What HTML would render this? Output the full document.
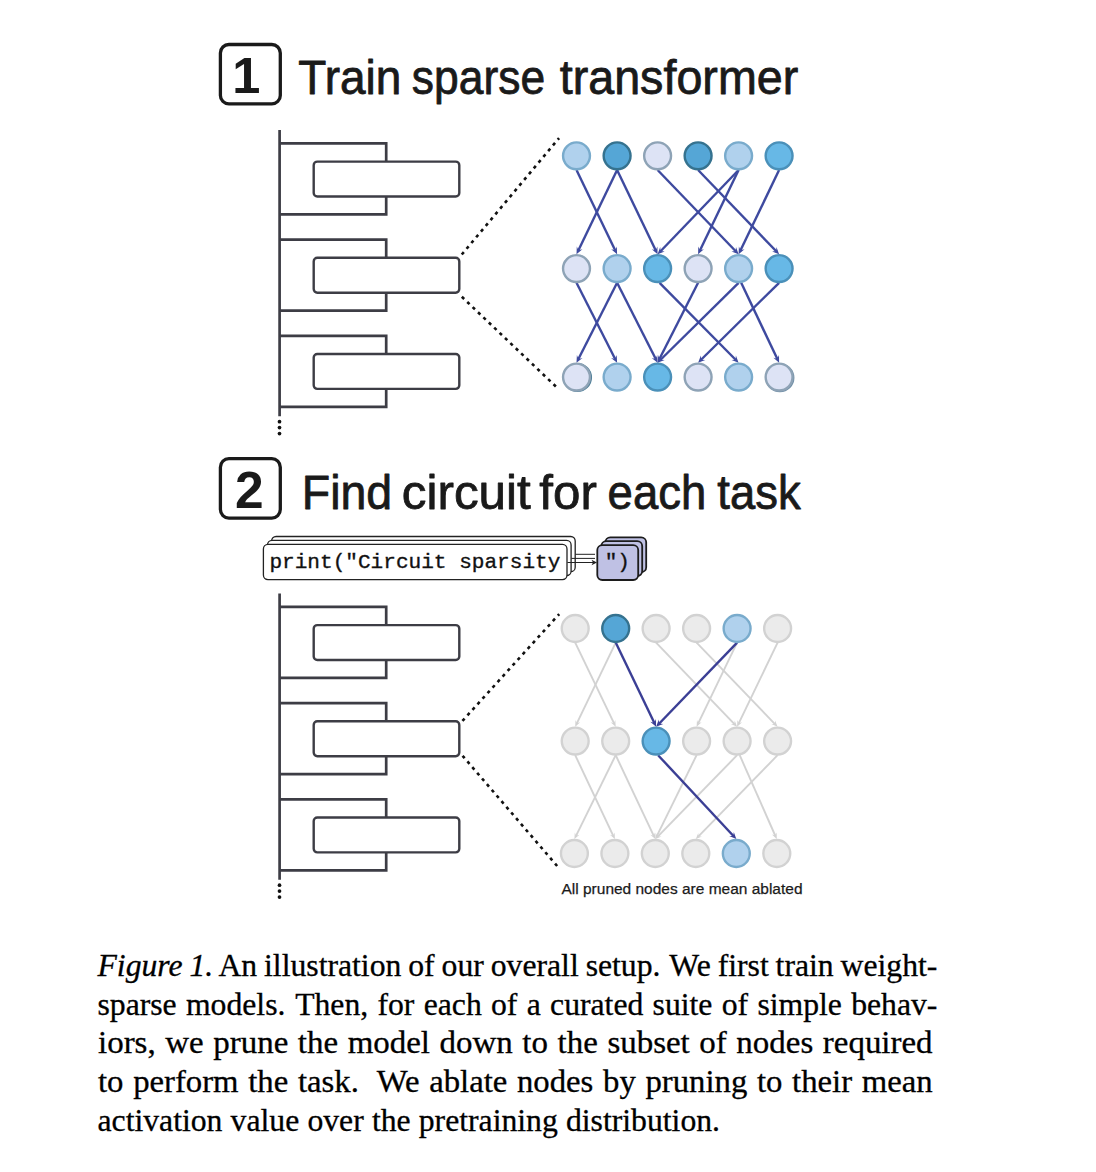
<!DOCTYPE html>
<html lang="en"><head><meta charset="utf-8"><title>Figure 1</title>
<style>
html,body{margin:0;padding:0;background:#fff;}
body{width:1096px;height:1172px;position:relative;overflow:hidden;}
svg{position:absolute;left:0;top:0;}
.cap{position:absolute;left:97.5px;width:845px;font-family:"Liberation Serif","Times New Roman",serif;font-size:31.7px;line-height:38px;color:#000;white-space:pre;height:38px;-webkit-text-stroke:0.3px #000;}
</style></head><body>
<svg width="1096" height="1172" viewBox="0 0 1096 1172">
<rect width="1096" height="1172" fill="#fff"/>
<rect x="220.4" y="44.5" width="59.9" height="59.4" rx="8.5" fill="#fff" stroke="#1a1a1a" stroke-width="3.3"/>
<text x="246.4" y="92.9" text-anchor="middle" font-family="'Liberation Sans',Arial,sans-serif" font-weight="700" font-size="50.5" fill="#1a1a1a">1</text>
<text x="298.3" y="94.3" textLength="103.0" lengthAdjust="spacingAndGlyphs" font-family="'Liberation Sans',Arial,sans-serif" font-size="47.5" fill="#1a1a1a" stroke="#1a1a1a" stroke-width="0.8" stroke-linejoin="round">Train</text>
<text x="411.8" y="94.3" textLength="133.3" lengthAdjust="spacingAndGlyphs" font-family="'Liberation Sans',Arial,sans-serif" font-size="47.5" fill="#1a1a1a" stroke="#1a1a1a" stroke-width="0.8" stroke-linejoin="round">sparse</text>
<text x="559.7" y="94.3" textLength="238.6" lengthAdjust="spacingAndGlyphs" font-family="'Liberation Sans',Arial,sans-serif" font-size="47.5" fill="#1a1a1a" stroke="#1a1a1a" stroke-width="0.8" stroke-linejoin="round">transformer</text>
<line x1="279.6" y1="130.1" x2="279.6" y2="416.3" stroke="#3d3d45" stroke-width="2.7"/>
<path d="M279.6,143.4 H386.2 V214.4 H279.6" fill="none" stroke="#3d3d45" stroke-width="2.7" stroke-linejoin="miter"/>
<rect x="313.7" y="161.6" width="145.6" height="34.9" rx="3.6" fill="#fff" stroke="#3d3d45" stroke-width="2.4"/>
<path d="M279.6,239.60000000000002 H386.2 V310.6 H279.6" fill="none" stroke="#3d3d45" stroke-width="2.7" stroke-linejoin="miter"/>
<rect x="313.7" y="257.8" width="145.6" height="34.9" rx="3.6" fill="#fff" stroke="#3d3d45" stroke-width="2.4"/>
<path d="M279.6,335.8 H386.2 V406.8 H279.6" fill="none" stroke="#3d3d45" stroke-width="2.7" stroke-linejoin="miter"/>
<rect x="313.7" y="354.0" width="145.6" height="34.9" rx="3.6" fill="#fff" stroke="#3d3d45" stroke-width="2.4"/>
<circle cx="279.50" cy="421.65" r="1.85" fill="#111"/>
<circle cx="279.50" cy="427.62" r="1.85" fill="#111"/>
<circle cx="279.50" cy="433.59" r="1.85" fill="#111"/>
<line x1="461.77" y1="254.53" x2="559.06" y2="138.05" stroke="#111" stroke-width="2.6" stroke-dasharray="3.2 4.288"/>
<line x1="461.84" y1="296.80" x2="555.86" y2="386.50" stroke="#111" stroke-width="2.6" stroke-dasharray="3.2 4.256"/>
<circle cx="577.5" cy="377.5" r="13.45" fill="#dde3f5" stroke="#4f7f98" stroke-width="2.2"/>
<circle cx="779.9" cy="377.7" r="13.45" fill="#dde3f5" stroke="#6f8ea6" stroke-width="2.2"/>
<line x1="576.5" y1="170.0" x2="615.4" y2="250.8" stroke="#3e4a9f" stroke-width="2.4"/><polygon points="617.1,254.3 611.2,249.3 615.2,250.3 616.8,246.6" fill="#3e4a9f"/>
<line x1="617.1" y1="170.0" x2="578.2" y2="250.8" stroke="#3e4a9f" stroke-width="2.4"/><polygon points="576.5,254.3 576.8,246.6 578.4,250.3 582.4,249.3" fill="#3e4a9f"/>
<line x1="617.1" y1="170.0" x2="655.9" y2="250.8" stroke="#3e4a9f" stroke-width="2.4"/><polygon points="657.6,254.3 651.8,249.3 655.7,250.3 657.4,246.6" fill="#3e4a9f"/>
<line x1="657.6" y1="170.0" x2="736.0" y2="251.5" stroke="#3e4a9f" stroke-width="2.4"/><polygon points="738.6,254.3 731.5,251.4 735.6,251.1 736.0,247.1" fill="#3e4a9f"/>
<line x1="698.1" y1="170.0" x2="776.5" y2="251.5" stroke="#3e4a9f" stroke-width="2.4"/><polygon points="779.1,254.3 772.1,251.4 776.1,251.1 776.5,247.1" fill="#3e4a9f"/>
<line x1="738.6" y1="170.0" x2="660.3" y2="251.5" stroke="#3e4a9f" stroke-width="2.4"/><polygon points="657.6,254.3 660.2,247.1 660.6,251.1 664.7,251.4" fill="#3e4a9f"/>
<line x1="738.6" y1="170.0" x2="699.8" y2="250.8" stroke="#3e4a9f" stroke-width="2.4"/><polygon points="698.1,254.3 698.3,246.6 700.0,250.3 703.9,249.3" fill="#3e4a9f"/>
<line x1="779.1" y1="170.0" x2="740.3" y2="250.8" stroke="#3e4a9f" stroke-width="2.4"/><polygon points="738.6,254.3 738.9,246.6 740.5,250.3 744.5,249.3" fill="#3e4a9f"/>
<line x1="576.5" y1="282.8" x2="615.3" y2="359.3" stroke="#3e4a9f" stroke-width="2.4"/><polygon points="617.1,362.8 611.1,357.9 615.1,358.9 616.7,355.1" fill="#3e4a9f"/>
<line x1="617.1" y1="282.8" x2="578.3" y2="359.3" stroke="#3e4a9f" stroke-width="2.4"/><polygon points="576.5,362.8 576.9,355.1 578.5,358.9 582.5,357.9" fill="#3e4a9f"/>
<line x1="617.1" y1="282.8" x2="655.9" y2="359.3" stroke="#3e4a9f" stroke-width="2.4"/><polygon points="657.6,362.8 651.7,357.9 655.6,358.9 657.2,355.1" fill="#3e4a9f"/>
<line x1="659.6" y1="282.8" x2="735.9" y2="360.0" stroke="#3e4a9f" stroke-width="2.4"/><polygon points="738.6,362.8 731.5,359.9 735.6,359.7 735.9,355.6" fill="#3e4a9f"/>
<line x1="698.1" y1="282.8" x2="659.3" y2="359.3" stroke="#3e4a9f" stroke-width="2.4"/><polygon points="657.6,362.8 658.0,355.1 659.6,358.9 663.5,357.9" fill="#3e4a9f"/>
<line x1="738.6" y1="282.8" x2="660.3" y2="360.0" stroke="#3e4a9f" stroke-width="2.4"/><polygon points="657.6,362.8 660.4,355.6 660.7,359.7 664.7,360.0" fill="#3e4a9f"/>
<line x1="741.2" y1="282.8" x2="777.5" y2="359.3" stroke="#3e4a9f" stroke-width="2.4"/><polygon points="779.1,362.8 773.4,357.8 777.3,358.8 779.0,355.1" fill="#3e4a9f"/>
<line x1="779.1" y1="282.8" x2="700.8" y2="360.0" stroke="#3e4a9f" stroke-width="2.4"/><polygon points="698.1,362.8 700.9,355.6 701.2,359.7 705.3,360.0" fill="#3e4a9f"/>
<circle cx="576.5" cy="155.8" r="13.45" fill="#b0d1ed" stroke="#79abcc" stroke-width="2.4"/>
<circle cx="617.1" cy="155.8" r="13.45" fill="#55a6d6" stroke="#35728f" stroke-width="2.4"/>
<circle cx="657.6" cy="155.8" r="13.45" fill="#dde3f5" stroke="#8ea3b6" stroke-width="2.4"/>
<circle cx="698.1" cy="155.8" r="13.45" fill="#55a6d6" stroke="#35728f" stroke-width="2.4"/>
<circle cx="738.6" cy="155.8" r="13.45" fill="#b0d1ed" stroke="#79abcc" stroke-width="2.4"/>
<circle cx="779.1" cy="155.8" r="13.45" fill="#67b8e6" stroke="#4a90b9" stroke-width="2.4"/>
<circle cx="576.5" cy="268.6" r="13.45" fill="#dde3f5" stroke="#8ea3b6" stroke-width="2.4"/>
<circle cx="617.1" cy="268.6" r="13.45" fill="#b0d1ed" stroke="#79abcc" stroke-width="2.4"/>
<circle cx="657.6" cy="268.6" r="13.45" fill="#67b8e6" stroke="#4a90b9" stroke-width="2.4"/>
<circle cx="698.1" cy="268.6" r="13.45" fill="#dde3f5" stroke="#8ea3b6" stroke-width="2.4"/>
<circle cx="738.6" cy="268.6" r="13.45" fill="#b0d1ed" stroke="#79abcc" stroke-width="2.4"/>
<circle cx="779.1" cy="268.6" r="13.45" fill="#67b8e6" stroke="#4a90b9" stroke-width="2.4"/>
<circle cx="576.5" cy="377.1" r="13.45" fill="#dde3f5" stroke="#8ea3b6" stroke-width="2.4"/>
<circle cx="617.1" cy="377.1" r="13.45" fill="#b0d1ed" stroke="#79abcc" stroke-width="2.4"/>
<circle cx="657.6" cy="377.1" r="13.45" fill="#67b8e6" stroke="#4a90b9" stroke-width="2.4"/>
<circle cx="698.1" cy="377.1" r="13.45" fill="#dde3f5" stroke="#8ea3b6" stroke-width="2.4"/>
<circle cx="738.6" cy="377.1" r="13.45" fill="#b0d1ed" stroke="#79abcc" stroke-width="2.4"/>
<circle cx="779.1" cy="377.1" r="13.45" fill="#dde3f5" stroke="#8ea3b6" stroke-width="2.4"/>
<rect x="220.4" y="458.7" width="59.9" height="59.4" rx="8.5" fill="#fff" stroke="#1a1a1a" stroke-width="3.3"/>
<text x="249.4" y="507.6" text-anchor="middle" font-family="'Liberation Sans',Arial,sans-serif" font-weight="700" font-size="51.5" fill="#1a1a1a">2</text>
<text x="301.8" y="508.6" textLength="90.4" lengthAdjust="spacingAndGlyphs" font-family="'Liberation Sans',Arial,sans-serif" font-size="47.5" fill="#1a1a1a" stroke="#1a1a1a" stroke-width="0.8" stroke-linejoin="round">Find</text>
<text x="401.8" y="508.6" textLength="129.0" lengthAdjust="spacingAndGlyphs" font-family="'Liberation Sans',Arial,sans-serif" font-size="47.5" fill="#1a1a1a" stroke="#1a1a1a" stroke-width="0.8" stroke-linejoin="round">circuit</text>
<text x="539.3" y="508.6" textLength="57.5" lengthAdjust="spacingAndGlyphs" font-family="'Liberation Sans',Arial,sans-serif" font-size="47.5" fill="#1a1a1a" stroke="#1a1a1a" stroke-width="0.8" stroke-linejoin="round">for</text>
<text x="607.6" y="508.6" textLength="98.6" lengthAdjust="spacingAndGlyphs" font-family="'Liberation Sans',Arial,sans-serif" font-size="47.5" fill="#1a1a1a" stroke="#1a1a1a" stroke-width="0.8" stroke-linejoin="round">each</text>
<text x="717.3" y="508.6" textLength="83.3" lengthAdjust="spacingAndGlyphs" font-family="'Liberation Sans',Arial,sans-serif" font-size="47.5" fill="#1a1a1a" stroke="#1a1a1a" stroke-width="0.8" stroke-linejoin="round">task</text>
<rect x="271.6" y="536.5" width="303.6" height="35.2" rx="4.5" fill="#fff" stroke="#222" stroke-width="1.3"/>
<rect x="267.5" y="540.4" width="303.6" height="35.2" rx="4.5" fill="#fff" stroke="#222" stroke-width="1.3"/>
<rect x="263.4" y="544.4" width="303.6" height="35.2" rx="4.5" fill="#fff" stroke="#222" stroke-width="1.3"/>
<text x="269.4" y="568.2" textLength="291" lengthAdjust="spacingAndGlyphs" font-family="'Liberation Mono',monospace" font-size="21" fill="#111" stroke="#111" stroke-width="0.35">print("Circuit sparsity</text>
<line x1="575.4" y1="554.3" x2="595" y2="554.3" stroke="#222" stroke-width="1"/>
<line x1="571.4" y1="558.4" x2="595" y2="558.4" stroke="#222" stroke-width="1"/>
<line x1="567.4" y1="562.5" x2="595" y2="562.5" stroke="#222" stroke-width="1"/>
<polygon points="597,562.5 591.5,559.8 593,562.5 591.5,565.2" fill="#222"/>
<rect x="605.3" y="537.3" width="40.9" height="34.9" rx="5" fill="#bfc1e4" stroke="#1c1c1c" stroke-width="1.8"/>
<rect x="601.3" y="541.2" width="40.9" height="34.9" rx="5" fill="#bfc1e4" stroke="#1c1c1c" stroke-width="1.8"/>
<rect x="597.3" y="545.1" width="40.9" height="34.9" rx="5" fill="#bfc1e4" stroke="#1c1c1c" stroke-width="1.8"/>
<text x="617.3" y="568.4" text-anchor="middle" font-family="'Liberation Mono',monospace" font-size="21" fill="#111" stroke="#111" stroke-width="0.35">")</text>
<line x1="279.6" y1="593.6" x2="279.6" y2="879.8" stroke="#3d3d45" stroke-width="2.7"/>
<path d="M279.6,606.9 H386.2 V677.9 H279.6" fill="none" stroke="#3d3d45" stroke-width="2.7" stroke-linejoin="miter"/>
<rect x="313.7" y="625.1" width="145.6" height="34.9" rx="3.6" fill="#fff" stroke="#3d3d45" stroke-width="2.4"/>
<path d="M279.6,703.1 H386.2 V774.1 H279.6" fill="none" stroke="#3d3d45" stroke-width="2.7" stroke-linejoin="miter"/>
<rect x="313.7" y="721.3" width="145.6" height="34.9" rx="3.6" fill="#fff" stroke="#3d3d45" stroke-width="2.4"/>
<path d="M279.6,799.3 H386.2 V870.3 H279.6" fill="none" stroke="#3d3d45" stroke-width="2.7" stroke-linejoin="miter"/>
<rect x="313.7" y="817.5" width="145.6" height="34.9" rx="3.6" fill="#fff" stroke="#3d3d45" stroke-width="2.4"/>
<circle cx="279.50" cy="885.15" r="1.85" fill="#111"/>
<circle cx="279.50" cy="891.12" r="1.85" fill="#111"/>
<circle cx="279.50" cy="897.09" r="1.85" fill="#111"/>
<line x1="462.43" y1="720.89" x2="559.19" y2="614.06" stroke="#111" stroke-width="2.6" stroke-dasharray="3.2 4.281"/>
<line x1="462.56" y1="755.79" x2="557.14" y2="866.01" stroke="#111" stroke-width="2.6" stroke-dasharray="3.2 4.276"/>
<line x1="575.2" y1="642.6" x2="614.2" y2="723.7" stroke="#d2d2d2" stroke-width="1.9"/><polygon points="615.7,726.8 610.6,722.3 614.0,723.3 615.3,720.0" fill="#d2d2d2"/>
<line x1="615.7" y1="642.6" x2="576.7" y2="723.7" stroke="#d2d2d2" stroke-width="1.9"/><polygon points="575.2,726.8 575.5,720.0 576.9,723.3 580.2,722.3" fill="#d2d2d2"/>
<line x1="656.1" y1="642.6" x2="734.7" y2="724.3" stroke="#d2d2d2" stroke-width="1.9"/><polygon points="737.1,726.8 730.9,724.1 734.4,724.0 734.7,720.5" fill="#d2d2d2"/>
<line x1="696.6" y1="642.6" x2="775.2" y2="724.3" stroke="#d2d2d2" stroke-width="1.9"/><polygon points="777.6,726.8 771.4,724.1 774.9,724.0 775.1,720.5" fill="#d2d2d2"/>
<line x1="737.1" y1="642.6" x2="698.1" y2="723.7" stroke="#d2d2d2" stroke-width="1.9"/><polygon points="696.6,726.8 697.0,720.0 698.3,723.3 701.6,722.3" fill="#d2d2d2"/>
<line x1="777.6" y1="642.6" x2="738.6" y2="723.7" stroke="#d2d2d2" stroke-width="1.9"/><polygon points="737.1,726.8 737.4,720.0 738.7,723.3 742.1,722.3" fill="#d2d2d2"/>
<line x1="615.7" y1="642.6" x2="654.5" y2="723.3" stroke="#3b3f95" stroke-width="2.4"/><polygon points="656.1,726.8 650.3,721.8 654.3,722.8 655.9,719.1" fill="#3b3f95"/>
<line x1="737.1" y1="642.6" x2="658.8" y2="724.0" stroke="#3b3f95" stroke-width="2.4"/><polygon points="656.1,726.8 658.8,719.6 659.1,723.6 663.2,723.9" fill="#3b3f95"/>
<line x1="575.2" y1="755.2" x2="613.4" y2="836.1" stroke="#d2d2d2" stroke-width="1.9"/><polygon points="614.9,839.1 609.9,834.7 613.2,835.7 614.6,832.4" fill="#d2d2d2"/>
<line x1="615.7" y1="755.2" x2="575.9" y2="836.1" stroke="#d2d2d2" stroke-width="1.9"/><polygon points="574.4,839.1 574.8,832.4 576.1,835.7 579.5,834.7" fill="#d2d2d2"/>
<line x1="615.7" y1="755.2" x2="653.9" y2="836.1" stroke="#d2d2d2" stroke-width="1.9"/><polygon points="655.3,839.1 650.3,834.7 653.7,835.7 655.0,832.4" fill="#d2d2d2"/>
<line x1="696.6" y1="755.2" x2="656.8" y2="836.1" stroke="#d2d2d2" stroke-width="1.9"/><polygon points="655.3,839.1 655.7,832.4 657.0,835.7 660.4,834.7" fill="#d2d2d2"/>
<line x1="737.1" y1="755.2" x2="657.7" y2="836.7" stroke="#d2d2d2" stroke-width="1.9"/><polygon points="655.3,839.1 657.8,832.9 658.0,836.4 661.5,836.5" fill="#d2d2d2"/>
<line x1="739.7" y1="755.2" x2="775.4" y2="836.0" stroke="#d2d2d2" stroke-width="1.9"/><polygon points="776.8,839.1 771.9,834.5 775.2,835.6 776.6,832.4" fill="#d2d2d2"/>
<line x1="777.6" y1="755.2" x2="698.2" y2="836.7" stroke="#d2d2d2" stroke-width="1.9"/><polygon points="695.8,839.1 698.3,832.9 698.5,836.4 702.0,836.5" fill="#d2d2d2"/>
<line x1="658.1" y1="755.2" x2="733.7" y2="836.3" stroke="#3b3f95" stroke-width="2.4"/><polygon points="736.3,839.1 729.2,836.1 733.3,836.0 733.8,831.9" fill="#3b3f95"/>
<circle cx="575.2" cy="628.5" r="13.45" fill="#ebebeb" stroke="#d2d2d2" stroke-width="2.4"/>
<circle cx="615.7" cy="628.5" r="13.45" fill="#55a6d6" stroke="#35728f" stroke-width="2.4"/>
<circle cx="656.1" cy="628.5" r="13.45" fill="#ebebeb" stroke="#d2d2d2" stroke-width="2.4"/>
<circle cx="696.6" cy="628.5" r="13.45" fill="#ebebeb" stroke="#d2d2d2" stroke-width="2.4"/>
<circle cx="737.1" cy="628.5" r="13.45" fill="#b0d1ed" stroke="#79abcc" stroke-width="2.4"/>
<circle cx="777.6" cy="628.5" r="13.45" fill="#ebebeb" stroke="#d2d2d2" stroke-width="2.4"/>
<circle cx="575.2" cy="741.1" r="13.45" fill="#ebebeb" stroke="#d2d2d2" stroke-width="2.4"/>
<circle cx="615.7" cy="741.1" r="13.45" fill="#ebebeb" stroke="#d2d2d2" stroke-width="2.4"/>
<circle cx="656.1" cy="741.1" r="13.45" fill="#67b8e6" stroke="#4a90b9" stroke-width="2.4"/>
<circle cx="696.6" cy="741.1" r="13.45" fill="#ebebeb" stroke="#d2d2d2" stroke-width="2.4"/>
<circle cx="737.1" cy="741.1" r="13.45" fill="#ebebeb" stroke="#d2d2d2" stroke-width="2.4"/>
<circle cx="777.6" cy="741.1" r="13.45" fill="#ebebeb" stroke="#d2d2d2" stroke-width="2.4"/>
<circle cx="574.4" cy="853.5" r="13.45" fill="#ebebeb" stroke="#d2d2d2" stroke-width="2.4"/>
<circle cx="614.9" cy="853.5" r="13.45" fill="#ebebeb" stroke="#d2d2d2" stroke-width="2.4"/>
<circle cx="655.3" cy="853.5" r="13.45" fill="#ebebeb" stroke="#d2d2d2" stroke-width="2.4"/>
<circle cx="695.8" cy="853.5" r="13.45" fill="#ebebeb" stroke="#d2d2d2" stroke-width="2.4"/>
<circle cx="736.3" cy="853.5" r="13.45" fill="#b0d1ed" stroke="#79abcc" stroke-width="2.4"/>
<circle cx="776.8" cy="853.5" r="13.45" fill="#ebebeb" stroke="#d2d2d2" stroke-width="2.4"/>
<text x="561.5" y="894.0" textLength="241" lengthAdjust="spacingAndGlyphs" font-family="'Liberation Sans',Arial,sans-serif" font-size="15.3" fill="#1a1a1a" stroke="#1a1a1a" stroke-width="0.25">All pruned nodes are mean ablated</text>
</svg>
<div class="cap" style="top:946.7px;word-spacing:-1.006px"><i>Figure 1.</i> An illustration of our overall setup.<span style="display:inline-block;width:2.5px"></span> We first train weight-</div>
<div class="cap" style="top:985.5px;word-spacing:1.365px">sparse models.<span style="display:inline-block;width:1px"></span> Then, for each of a curated suite of simple behav-</div>
<div class="cap" style="top:1024.3px;word-spacing:1.273px;transform:scaleX(1.04);transform-origin:0 0">iors, we prune the model down to the subset of nodes required</div>
<div class="cap" style="top:1063.1px;word-spacing:1.444px;transform:scaleX(1.033);transform-origin:0 0">to perform the task.<span style="display:inline-block;width:8.5px"></span> We ablate nodes by pruning to their mean</div>
<div class="cap" style="top:1101.9px;word-spacing:0.250px">activation value over the pretraining distribution.</div>
</body></html>
